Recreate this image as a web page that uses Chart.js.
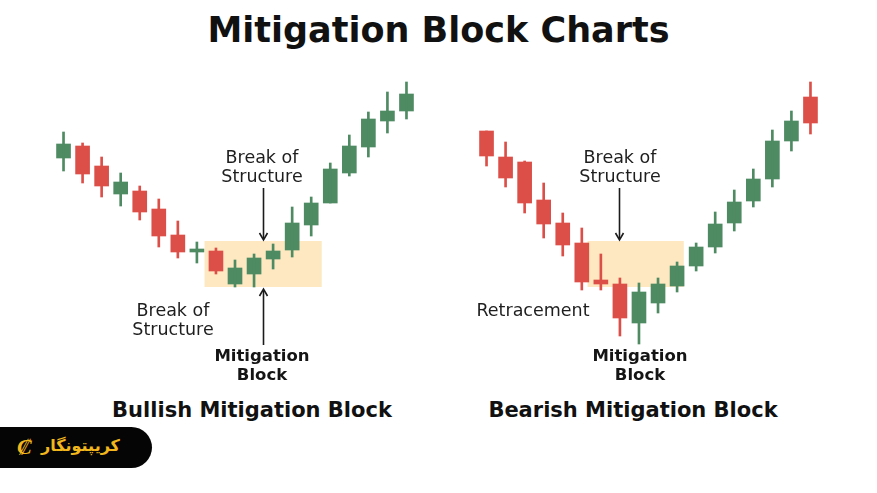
<!DOCTYPE html>
<html>
<head>
<meta charset="utf-8">
<script src="https://cdn.jsdelivr.net/npm/chart.js@4.4.1/dist/chart.umd.min.js"></script>
<style>
    body { margin: 0; width: 877px; height: 493px; background: #fff; position: relative; overflow: hidden; font-family: "DejaVu Sans", sans-serif; color: #151515; }
    canvas { position: absolute; }
    #leftCanvas { left: 54px; top: 70px; }
    #rightCanvas { left: 477px; top: 70px; }
    .txt { position: absolute; text-align: center; white-space: nowrap; line-height: 19px; }
    .note { font-size: 17.5px; font-weight: 400; color: #1e1e1e; }
    .bold { font-size: 16.5px; font-weight: 700; }
    h1 { position: absolute; margin: 0; left: 0; width: 877px; top: 10px; text-align: center; font-size: 35px; font-weight: 700; color: #111; }
    .sub { position: absolute; top: 398px; font-size: 21px; font-weight: 700; text-align: center; color: #111; }
    #logo { position: absolute; left: 0; top: 427px; width: 152px; height: 41px; background: #050505; border-radius: 0 21px 21px 0; }
    #logo span { position: absolute; color: #f2b71c; font-weight: 700; }
</style>
</head>
<body>
<h1>Mitigation Block Charts</h1>

<canvas id="leftCanvas" width="362" height="280"></canvas>
<canvas id="rightCanvas" width="343" height="280"></canvas>

<div class="txt note" style="left:202px; top:148px; width:120px;">Break of<br>Structure</div>
<div class="txt note" style="left:113px; top:301px; width:120px;">Break of<br>Structure</div>
<div class="txt bold" style="left:202px; top:346px; width:120px;">Mitigation<br>Block</div>
<div class="sub" style="left:92px; width:320px;">Bullish Mitigation Block</div>

<div class="txt note" style="left:560px; top:148px; width:120px;">Break of<br>Structure</div>
<div class="txt note" style="left:468px; top:301px; width:130px;">Retracement</div>
<div class="txt bold" style="left:580px; top:346px; width:120px;">Mitigation<br>Block</div>
<div class="sub" style="left:473px; width:320px;">Bearish Mitigation Block</div>

<div id="logo">
    <span style="left:17px; top:6px; font-size:22px; font-family:'DejaVu Serif', serif; font-style:italic;">₡</span>
    <span style="left:41px; top:9px; font-size:16px;">کریپتونگار</span>
</div>

<script>
// ---------- data ----------
// left panel: bullish mitigation block
const bullOpen  = [96, 102, 92, 78, 79.5, 70.5, 57.5, 49, 49.5, 33, 38, 45.5, 50, 62.5, 73.5, 88.5, 101.5, 114.5, 119.5];
const bullHigh  = [109, 103.5, 96.5, 88.5, 82, 75.5, 64.5, 54, 51, 45, 48, 53, 71.5, 76.5, 93.5, 107.5, 119, 129, 134];
const bullLow   = [89.5, 83.5, 76.5, 72, 65, 51.5, 46, 43.5, 38, 31.5, 31.5, 40.5, 46.5, 57, 73.5, 87, 96.5, 108.5, 115.5];
const bullClose = [103, 88, 82, 84, 69, 57, 49, 50, 39.5, 41, 46, 49.5, 63.5, 73.5, 90.5, 102, 115.5, 119.5, 128];

// right panel: bearish mitigation block
const bearOpen  = [109.5, 96.5, 94, 75, 63.5, 53.5, 35, 33, 13.5, 23.5, 32, 42, 51.5, 63.5, 74.5, 85.5, 104.5, 126.5];
const bearHigh  = [109.5, 104, 94.5, 83.5, 68.5, 61, 48, 36, 33.5, 36, 44, 53.5, 69, 80, 90.5, 110, 119.5, 134];
const bearLow   = [92, 81.5, 68.5, 56, 47, 30, 30, 7, 3, 18.5, 29, 39.5, 48.5, 59.5, 71.5, 81.5, 99.5, 108];
const bearClose = [97, 86, 73.5, 63, 52.5, 34, 33, 16, 29, 33, 42, 51.5, 63, 74, 85.5, 104.5, 114.5, 113.5];

// zones: [fromIndex, toIndex, top price, bottom price]
const bullZone = [7.4, 13.55, 54.5, 31.5];
const bearZone = [5.3, 10.35, 54.5, 31.5];

// arrows: [index, from price, to price]
const bullArrows = [[10.45, 81, 55], [10.45, 2.5, 30.5]];
const bearArrows = [[6.93, 81, 55]];

const GREEN = "#4e8a62";
const RED = "#dc4f48";
const ZONE = "#fde8c1";

// ---------- plugin: zone box + arrows ----------
const zonePlugin = {
    id: "zone",
    beforeDatasetsDraw(chart, args, opts) {
        const { ctx, scales: { x, y } } = chart;
        const z = opts.zone;
        const x0 = x.getPixelForValue(z[0]);
        const x1 = x.getPixelForValue(z[1]);
        const y0 = y.getPixelForValue(z[2]);
        const y1 = y.getPixelForValue(z[3]);
        ctx.save();
        ctx.fillStyle = ZONE;
        ctx.fillRect(x0, y0, x1 - x0, y1 - y0);
        ctx.restore();
    },
    afterDatasetsDraw(chart, args, opts) {
        const { ctx, scales: { x, y } } = chart;
        ctx.save();
        ctx.strokeStyle = "#1b1b1b";
        ctx.lineWidth = 1.6;
        opts.arrows.forEach(a => {
            const px = Math.round(x.getPixelForValue(a[0])) + 0.5;
            const ya = y.getPixelForValue(a[1]);
            const yb = y.getPixelForValue(a[2]);
            const dir = yb > ya ? 1 : -1;
            ctx.beginPath();
            ctx.moveTo(px, ya);
            ctx.lineTo(px, yb - dir * 2);
            ctx.stroke();
            ctx.beginPath();
            ctx.moveTo(px - 4, yb - dir * 7);
            ctx.lineTo(px, yb);
            ctx.lineTo(px + 4, yb - dir * 7);
            ctx.stroke();
        });
        ctx.restore();
    }
};

function candleChart(canvasId, open, high, low, close, zone, arrows) {
    const colors = open.map((o, i) => close[i] >= o ? GREEN : RED);
    const labels = open.map((o, i) => i + 1);
    return new Chart(document.getElementById(canvasId), {
        type: "bar",
        data: {
            labels: labels,
            datasets: [
                {
                    label: "wick",
                    data: low.map((l, i) => [l, high[i]]),
                    backgroundColor: colors,
                    barThickness: 2,
                    grouped: false,
                    borderSkipped: false
                },
                {
                    label: "body",
                    data: open.map((o, i) => [o, close[i]]),
                    backgroundColor: colors,
                    barThickness: 14,
                    minBarLength: 3,
                    grouped: false,
                    borderSkipped: false
                }
            ]
        },
        options: {
            responsive: false,
            animation: false,
            devicePixelRatio: 1,
            layout: { padding: 0 },
            plugins: {
                legend: { display: false },
                tooltip: { enabled: false },
                zone: { zone: zone, arrows: arrows }
            },
            scales: {
                x: { display: false },
                y: { display: false, min: 0, max: 140 }
            }
        },
        plugins: [zonePlugin]
    });
}

candleChart("leftCanvas", bullOpen, bullHigh, bullLow, bullClose, bullZone, bullArrows);
candleChart("rightCanvas", bearOpen, bearHigh, bearLow, bearClose, bearZone, bearArrows);
</script>
</body>
</html>
